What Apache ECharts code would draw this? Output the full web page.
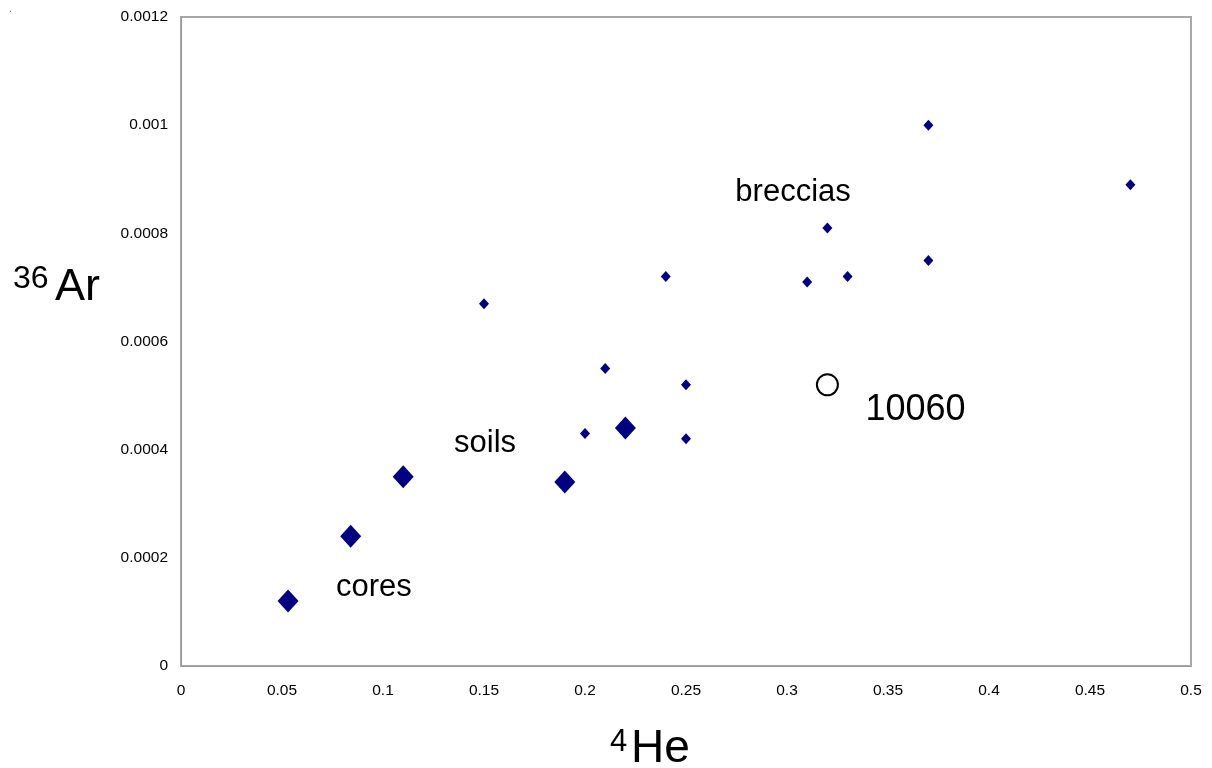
<!DOCTYPE html>
<html>
<head>
<meta charset="utf-8">
<title>36Ar vs 4He</title>
<script src="https://cdn.jsdelivr.net/npm/echarts@6/dist/echarts.min.js"></script>
<style>
  html, body { margin: 0; padding: 0; background: #fff; }
  #chartDiv { width: 1212px; height: 768px; }
</style>
</head>
<body>
<div id="chartDiv"></div>
<script>
// 角砾岩 (小菱形)
var brecciaHe = [0.15, 0.21, 0.20, 0.24, 0.25, 0.25, 0.31, 0.32, 0.33, 0.37, 0.37, 0.47];
var brecciaAr = [0.00067, 0.00055, 0.00043, 0.00072, 0.00052, 0.00042, 0.00071, 0.00081, 0.00072, 0.00100, 0.00075, 0.00089];
// 土壤 / 岩芯 (大菱形)
var soilHe = [0.053, 0.084, 0.11, 0.19, 0.22];
var soilAr = [0.00012, 0.00024, 0.00035, 0.00034, 0.00044];
// 样品 10060
var sampleHe = [0.32];
var sampleAr = [0.00052];
// 注释文字
var noteText = ['breccias', 'soils', 'cores', '10060'];
var noteHe = [0.303, 0.1505, 0.0955, 0.3636];
var noteAr = [0.000876, 0.000411, 0.000145, 0.000473];

var xTicks = 0.05;
var yTicks = 0.0002;

function zip(a, b) {
    var out = [];
    for (var i = 0; i < a.length; i++) out.push([a[i], b[i]]);
    return out;
}

var chart = echarts.init(document.getElementById('chartDiv'));
var font = 'Liberation Sans, Arial, sans-serif';

var option = {
    animation: false,
    backgroundColor: '#ffffff',
    grid: {
        left: 181, right: 21, top: 17, bottom: 102,
        show: true,
        borderColor: '#a8a8a8',
        borderWidth: 2,
        backgroundColor: '#ffffff'
    },
    xAxis: {
        type: 'value',
        min: 0, max: 0.5, interval: xTicks,
        splitLine: { show: false },
        axisTick: { show: false },
        axisLine: { lineStyle: { color: '#999999', width: 1 } },
        axisLabel: {
            color: '#000', fontFamily: font, fontSize: 15.5, margin: 17,
            formatter: function (v) { return String(parseFloat(v.toFixed(4))); }
        }
    },
    yAxis: {
        type: 'value',
        min: 0, max: 0.0012, interval: yTicks,
        splitLine: { show: false },
        axisTick: { show: false },
        axisLine: { lineStyle: { color: '#999999', width: 1 } },
        axisLabel: {
            color: '#000', fontFamily: font, fontSize: 15.5, margin: 13,
            formatter: function (v) { return String(parseFloat(v.toFixed(6))); }
        }
    },
    series: [
        {
            type: 'scatter',
            name: 'breccias',
            symbol: 'diamond',
            symbolSize: [10, 11],
            itemStyle: { color: '#000080', opacity: 1 },
            data: zip(brecciaHe, brecciaAr)
        },
        {
            type: 'scatter',
            name: 'soils',
            symbol: 'diamond',
            symbolSize: [21, 23],
            itemStyle: { color: '#000080', opacity: 1 },
            data: zip(soilHe, soilAr)
        },
        {
            type: 'scatter',
            name: '10060',
            symbol: 'circle',
            symbolSize: 21,
            itemStyle: { color: '#ffffff', borderColor: '#000000', borderWidth: 2, opacity: 1 },
            data: zip(sampleHe, sampleAr)
        },
        {
            type: 'scatter',
            name: 'notes',
            symbolSize: 1,
            itemStyle: { color: 'rgba(0,0,0,0)', opacity: 1 },
            label: {
                show: true,
                position: 'inside',
                color: '#000',
                fontFamily: font,
                fontSize: 31,
                formatter: function (p) { return p.value[2]; }
            },
            data: noteText.map(function (t, i) {
                var d = { value: [noteHe[i], noteAr[i], t] };
                if (t === '10060') d.label = { fontSize: 36 };
                return d;
            })
        }
    ],
    graphic: [
        { type: 'text', left: 9, top: 4, style: { text: '.', fontSize: 10, fill: '#666' } },
        // y 轴标题 36Ar
        { type: 'text', x: 13, y: 279, style: { text: '36', fontFamily: font, fontSize: 32, fill: '#000', verticalAlign: 'middle', align: 'left' } },
        { type: 'text', x: 55, y: 288, style: { text: 'Ar', fontFamily: font, fontSize: 45, fill: '#000', verticalAlign: 'middle', align: 'left' } },
        // x 轴标题 4He
        { type: 'text', x: 610, y: 742, style: { text: '4', fontFamily: font, fontSize: 31, fill: '#000', verticalAlign: 'middle', align: 'left' } },
        { type: 'text', x: 631, y: 749, style: { text: 'He', fontFamily: font, fontSize: 46, fill: '#000', verticalAlign: 'middle', align: 'left' } }
    ]
};
chart.setOption(option);
</script>
</body>
</html>
